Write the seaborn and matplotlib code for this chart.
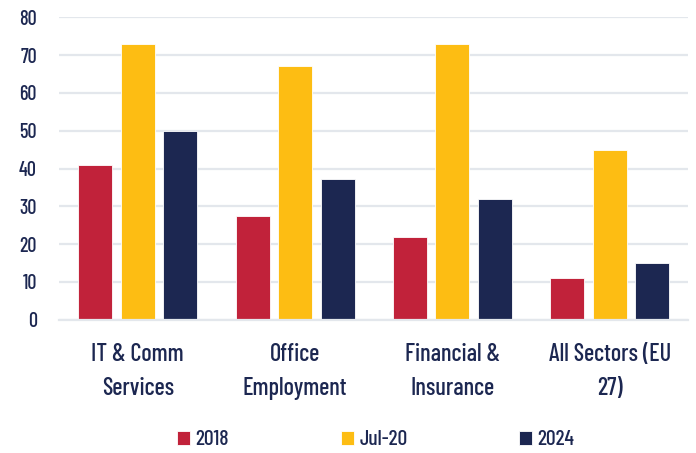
import matplotlib.pyplot as plt
import seaborn as sns
import pandas as pd

sns.set_theme(style="white")
plt.rcParams['font.family'] = ['Barlow Condensed', 'Barlow Semi Condensed', 'DejaVu Sans']
plt.rcParams['font.weight'] = 500

# Data
sectors = ['IT & Comm\nServices', 'Office\nEmployment', 'Financial &\nInsurance', 'All Sectors (EU\n27)']
periods = ['2018', 'Jul-20', '2024']
v_2018 = [41, 27.5, 22, 11]
v_jul20 = [73, 67.2, 73, 45]
v_2024 = [50, 37.2, 32, 15]
colors = ['#c1223a', '#fdbd13', '#1c2751']
text_col = '#1c2751'

df = pd.DataFrame({'Sector': sectors * 3,
                   'Period': [p for p in periods for _ in sectors],
                   'Value': v_2018 + v_jul20 + v_2024})

fig = plt.figure(figsize=(6.96, 4.53), dpi=100)
ax = fig.add_axes([0.085, 0.294, 0.904, 0.668])

sns.barplot(data=df, x='Sector', y='Value', hue='Period', palette=colors, saturation=1,
            width=0.81, gap=0.2, ax=ax, edgecolor='white', linewidth=0.6)

ax.set_ylim(0, 80)
ax.set_xlim(-0.5, 3.5)
ax.set_yticks(range(0, 81, 10))
ax.yaxis.grid(True, color='#e3e7ec', linewidth=1.6)
ax.set_axisbelow(True)
for s in ['top', 'right', 'left']:
    ax.spines[s].set_visible(False)
ax.spines['bottom'].set_color('#e3e7ec')
ax.spines['bottom'].set_linewidth(1.6)
ax.set_xlabel('')
ax.set_ylabel('')
ax.tick_params(axis='y', length=0, pad=16, labelsize=14.5, labelcolor=text_col)
ax.tick_params(axis='x', length=0, pad=17, labelsize=17.5, labelcolor=text_col)
for lab in ax.get_xticklabels():
    lab.set_linespacing(1.6)

handles, labels = ax.get_legend_handles_labels()
ax.legend_.remove()
leg = fig.legend(handles, labels, loc='center', bbox_to_anchor=(0.54, 0.029), ncol=3,
                 frameon=False, fontsize=15.5, handlelength=0.6, handleheight=0.6,
                 handletextpad=0.25, columnspacing=5.2)
for t in leg.get_texts():
    t.set_color(text_col)

fig.savefig('out.png', dpi=100)
